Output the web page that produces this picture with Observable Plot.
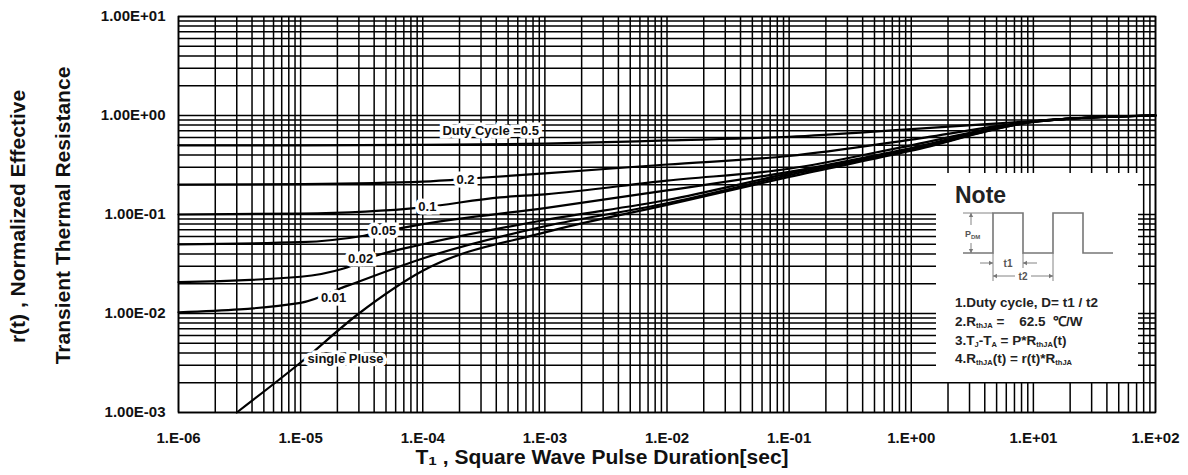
<!DOCTYPE html>
<html><head><meta charset="utf-8">
<script src="https://cdn.jsdelivr.net/npm/d3@7"></script>
<script src="https://cdn.jsdelivr.net/npm/@observablehq/plot@0.6"></script>
<style>
html,body{margin:0;padding:0;background:#fff;}
#chart{width:1188px;height:475px;position:relative;overflow:hidden;}
</style></head><body><div id="chart"></div>
<script>
// ---- tick labels ----
const xTicks = [1e-6, 1e-5, 1e-4, 1e-3, 1e-2, 1e-1, 1, 10, 100];
const xTickLabels = ["1.E-06","1.E-05","1.E-04","1.E-03","1.E-02","1.E-01","1.E+00","1.E+01","1.E+02"];
const yTicks = [1e-3, 1e-2, 1e-1, 1, 10];
const yTickLabels = ["1.00E-03","1.00E-02","1.00E-01","1.00E+00","1.00E+01"];

// ---- series: [pulse duration (s), r(t)] ----
const duty05 = [[1e-6,0.5],[1e-5,0.5],[1e-4,0.505],[1e-3,0.52],[1e-2,0.56],[1e-1,0.61],[1,0.73],[10,0.88],[20,0.93],[100,1.0]];
const duty02 = [[1e-6,0.2],[1e-5,0.203],[1e-4,0.215],[3e-4,0.235],[1e-3,0.26],[1e-2,0.32],[1e-1,0.39],[1,0.57],[10,0.87],[20,0.93],[100,1.0]];
const duty01 = [[1e-6,0.1],[1e-5,0.102],[1e-4,0.118],[4.3e-4,0.149],[1e-3,0.16],[1e-2,0.22],[1e-1,0.29],[1,0.5],[10,0.87],[20,0.93],[100,1.0]];
const duty005 = [[1e-6,0.05],[1e-5,0.0525],[3.3e-5,0.061],[6.3e-5,0.072],[1e-4,0.08],[1e-3,0.116],[1e-2,0.175],[1e-1,0.27],[1,0.47],[10,0.87],[20,0.93],[100,1.0]];
const duty002 = [[1e-6,0.0207],[1e-5,0.0235],[2.25e-5,0.0285],[4.2e-5,0.0385],[1e-4,0.05],[1e-3,0.088],[1e-2,0.14],[1e-1,0.26],[1,0.46],[10,0.87],[20,0.93],[100,1.0]];
const duty001 = [[1e-6,0.0103],[1e-5,0.0128],[2.4e-5,0.019],[1e-4,0.036],[1e-3,0.076],[1e-2,0.13],[1e-1,0.25],[1,0.45],[10,0.86],[20,0.93],[100,1.0]];
const singlePulse = [[3e-6,0.001],[1e-5,0.0032],[3e-5,0.01],[1e-4,0.027],[1e-3,0.066],[1e-2,0.125],[1e-1,0.24],[1,0.44],[10,0.86],[20,0.93],[100,1.0]];

const seriesNames = ["0.5","0.2","0.1","0.05","0.02","0.01","single"];
const seriesValues = [duty05, duty02, duty01, duty005, duty002, duty001, singlePulse];

// ---- curve labels: [t, r, text] ----
const curveLabels = [
  [3.6e-4, 0.70, "Duty Cycle =0.5"],
  [2.24e-4, 0.223, "0.2"],
  [1.09e-4, 0.119, "0.1"],
  [4.77e-5, 0.0689, "0.05"],
  [3.1e-5, 0.0356, "0.02"],
  [1.86e-5, 0.0145, "0.01"],
  [2.33e-5, 0.0035, "single Pluse"]
];

const xTitle = "T\u2081 , Square Wave Pulse Duration[sec]";
const yTitle1 = "r(t) , Normalized Effective";
const yTitle2 = "Transient Thermal Resistance";

// ---- build tables ----
const lineData = seriesNames.flatMap((name, i) => seriesValues[i].map(([t, r]) => ({name, t, r})));
const labelData = curveLabels.map(([t, r, text]) => ({t, r, text}));
const gridX = d3.range(-6, 2).flatMap(e => d3.range(1, 10).map(m => m * Math.pow(10, e))).concat([100]);
const gridY = d3.range(-3, 1).flatMap(e => d3.range(1, 10).map(m => m * Math.pow(10, e))).concat([10]);
const fmt = (ticks, labels) => d => {
  const i = ticks.findIndex(t => Math.abs(Math.log10(t) - Math.log10(d)) < 1e-6);
  return i < 0 ? "" : labels[i];
};

const FONT = "'Liberation Sans', Arial, Helvetica, sans-serif";
const W = 1188, H = 475, ML = 178, MR = 33, MT = 16, MB = 63;

const chart = Plot.plot({
  width: W, height: H,
  marginLeft: ML, marginRight: MR, marginTop: MT, marginBottom: MB,
  style: {fontFamily: FONT, fontSize: "15px", fontWeight: "bold", color: "#111", background: "#fff", overflow: "visible"},
  x: {type: "log", domain: [1e-6, 100], ticks: xTicks, tickFormat: fmt(xTicks, xTickLabels), tickSize: 0, tickPadding: 20, label: null},
  y: {type: "log", domain: [1e-3, 10], ticks: yTicks, tickFormat: fmt(yTicks, yTickLabels), tickSize: 0, tickPadding: 13, label: null},
  marks: [
    Plot.ruleX(gridX, {stroke: "#000", strokeWidth: 1.5}),
    Plot.ruleY(gridY, {stroke: "#000", strokeWidth: 1.5}),
    Plot.frame({stroke: "#000", strokeWidth: 1.6}),
    Plot.line(lineData, {x: "t", y: "r", z: "name", stroke: "#000", strokeWidth: 2.2, curve: "monotone-x"}),
    Plot.text(labelData, {x: "t", y: "r", text: "text", fontSize: 13, fontWeight: "bold", fill: "white", stroke: "white", strokeWidth: 7, strokeLinejoin: "miter"}),
    Plot.text(labelData, {x: "t", y: "r", text: "text", fontSize: 13, fontWeight: "bold", fill: "#111"}),
    Plot.text([xTitle], {text: d => d, frameAnchor: "bottom", textAnchor: "middle", lineAnchor: "middle", dx: -65, dy: 45, fontSize: 21, fontWeight: "bold", fill: "#111"}),
    Plot.text([yTitle1], {text: d => d, frameAnchor: "left", textAnchor: "middle", lineAnchor: "middle", dx: -160, dy: 2, rotate: -90, fontSize: 21, fontWeight: "bold", fill: "#111"}),
    Plot.text([yTitle2], {text: d => d, frameAnchor: "left", textAnchor: "middle", lineAnchor: "middle", dx: -115, dy: 1, rotate: -90, fontSize: 21, fontWeight: "bold", fill: "#111"})
  ]
});
document.getElementById("chart").appendChild(chart);

// ---- Note box (annotation) ----
const svg = d3.select(chart);
const g = svg.append("g").style("font-family", FONT).attr("text-anchor", "start").style("text-anchor", "start");
const boxR = W - MR - 17, boxL = boxR - 202, boxT = 173, boxB = 382;
g.append("rect").attr("x", boxL).attr("y", boxT).attr("width", boxR - boxL).attr("height", boxB - boxT).attr("fill", "#fff");
g.append("text").attr("x", boxL + 19).attr("y", boxT + 30).text("Note")
  .style("font-size", "23px").style("font-weight", "bold").attr("fill", "#222");

const gray = "#777";
const lo = 253, hi = 213, x0 = boxL + 27;
g.append("path").attr("d", `M${x0},${lo}H${x0+30}V${hi}H${x0+60}V${lo}H${x0+90}V${hi}H${x0+120}V${lo}H${x0+150}`)
  .attr("fill", "none").attr("stroke", gray).attr("stroke-width", 1.6);
const thin = (d) => g.append("path").attr("d", d).attr("fill", "none").attr("stroke", gray).attr("stroke-width", 0.9);
const head = (x, y, dir) => {
  const s = 4, w = 2.2;
  let d;
  if (dir === "up") d = `M${x},${y}L${x-w},${y+s}L${x+w},${y+s}Z`;
  if (dir === "down") d = `M${x},${y}L${x-w},${y-s}L${x+w},${y-s}Z`;
  if (dir === "right") d = `M${x},${y}L${x-s},${y-w}L${x-s},${y+w}Z`;
  if (dir === "left") d = `M${x},${y}L${x+s},${y-w}L${x+s},${y+w}Z`;
  g.append("path").attr("d", d).attr("fill", gray);
};
// P_DM dimension
thin(`M${x0},${hi}H${x0+30}`);
thin(`M${x0+8},${hi}V${hi+12}M${x0+8},${lo-10}V${lo}`);
head(x0 + 8, hi, "up"); head(x0 + 8, lo, "down");
const pdm = g.append("text").attr("x", x0 + 2).attr("y", 237).attr("fill", "#555").style("font-size", "9px");
pdm.append("tspan").text("P");
pdm.append("tspan").text("DM").style("font-size", "6px").attr("dy", 1.5);
// t1 / t2
thin(`M${x0+30},${lo}V${lo+28}M${x0+60},${lo}V${lo+15}M${x0+90},${lo}V${lo+28}`);
thin(`M${x0+17},263H${x0+30}M${x0+60},263H${x0+74}`);
head(x0 + 30, 263, "right"); head(x0 + 60, 263, "left");
g.append("text").attr("x", x0 + 45).attr("y", 267).style("text-anchor", "middle").attr("fill", "#555").style("font-size", "10px").text("t1");
thin(`M${x0+30},276H${x0+52}M${x0+68},276H${x0+90}`);
head(x0 + 30, 276, "left"); head(x0 + 90, 276, "right");
g.append("text").attr("x", x0 + 60).attr("y", 280).style("text-anchor", "middle").attr("fill", "#555").style("font-size", "10px").text("t2");

// note text lines
const noteLines = [
  [["1.Duty cycle, D= t1 / t2", 0]],
  [["2.R", 0], ["thJA", 1], [" =    62.5  \u2103/W", 0]],
  [["3.T", 0], ["J", 1], ["-T", 0], ["A", 1], [" = P*R", 0], ["thJA", 1], ["(t)", 0]],
  [["4.R", 0], ["thJA", 1], ["(t) = r(t)*R", 0], ["thJA", 1]]
];
const lineY = [307, 326, 344.5, 363];
noteLines.forEach((segs, i) => {
  const t = g.append("text").attr("x", boxL + 19).attr("y", lineY[i]).attr("fill", "#222")
    .style("font-size", "13.5px").style("font-weight", "bold").style("white-space", "pre").style("text-anchor", "start");
  let sub = false;
  segs.forEach(([s, isSub]) => {
    const ts = t.append("tspan").text(s);
    if (isSub && !sub) { ts.attr("dy", 2).style("font-size", "7.5px"); sub = true; }
    else if (!isSub && sub) { ts.attr("dy", -2); sub = false; }
    else if (isSub) ts.style("font-size", "7.5px");
  });
});
</script></body></html>
